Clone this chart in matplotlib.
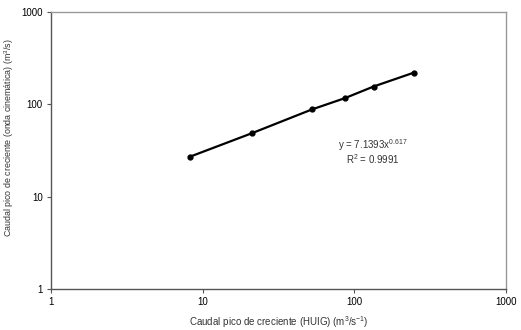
import matplotlib
matplotlib.use("Agg")
import matplotlib.pyplot as plt
from matplotlib.ticker import FixedLocator, NullLocator

plt.rcParams['font.family'] = ['Liberation Sans', 'DejaVu Sans']
plt.rcParams['mathtext.fontset'] = 'custom'
plt.rcParams['mathtext.rm'] = 'Liberation Sans'
plt.rcParams['mathtext.it'] = 'Liberation Sans:italic'
plt.rcParams['mathtext.bf'] = 'Liberation Sans:bold'

x_huig = [8.2, 21.0, 52.5, 87.0, 134.0, 246.0]
y_onda = [27.0, 48.5, 88.0, 117.0, 156.0, 220.0]
x_ticks = [1, 10, 100, 1000]
y_ticks = [1, 10, 100, 1000]
x_tick_labels = ["1", "10", "100", "1000"]
y_tick_labels = ["1", "10", "100", "1000"]
eq_text = "y = 7.1393x$^{\\mathrm{0.617}}$"
r2_text = "R$^{\\mathrm{2}}$ = 0.9991"

fig = plt.figure(figsize=(5.21, 3.30), dpi=100)
ax = fig.add_axes([51/521, 1-289/330, (506-51)/521, (289-12)/330])
ax.plot(x_huig, y_onda, color='black', lw=1.6, marker='o', ms=3.5)
ax.set_xscale('log')
ax.set_yscale('log')
ax.set_xlim(1, 1000)
ax.set_ylim(1, 1000)
ax.xaxis.set_major_locator(FixedLocator(x_ticks))
ax.yaxis.set_major_locator(FixedLocator(y_ticks))
ax.xaxis.set_minor_locator(NullLocator())
ax.yaxis.set_minor_locator(NullLocator())
ax.set_xticklabels(x_tick_labels)
ax.set_yticklabels(y_tick_labels)
ax.tick_params(axis='both', which='major', labelsize=7, length=3, width=0.8,
               color='#555555', direction='out', pad=3)
for s in ['left', 'bottom']:
    ax.spines[s].set_color('#555555')
    ax.spines[s].set_linewidth(1.0)
for s in ['top', 'right']:
    ax.spines[s].set_color('#999999')
    ax.spines[s].set_linewidth(1.0)
ax.set_xlabel("Caudal pico de creciente (HUIG) (m$^{\\mathrm{3}}$/s$^{\\mathrm{-1}}$)", fontsize=7, color='#333333', labelpad=5)
ax.set_ylabel("Caudal pico de creciente (onda cinemática) (m$^{\\mathrm{3}}$/s)", fontsize=6.4, color='#333333')
ax.yaxis.set_label_coords(-0.076, 0.545)
ax.text(0.708, 0.52, eq_text, transform=ax.transAxes, ha='center', va='center', fontsize=7, color='#333333')
ax.text(0.708, 0.47, r2_text, transform=ax.transAxes, ha='center', va='center', fontsize=7, color='#333333')
fig.savefig("out.png", dpi=100)
